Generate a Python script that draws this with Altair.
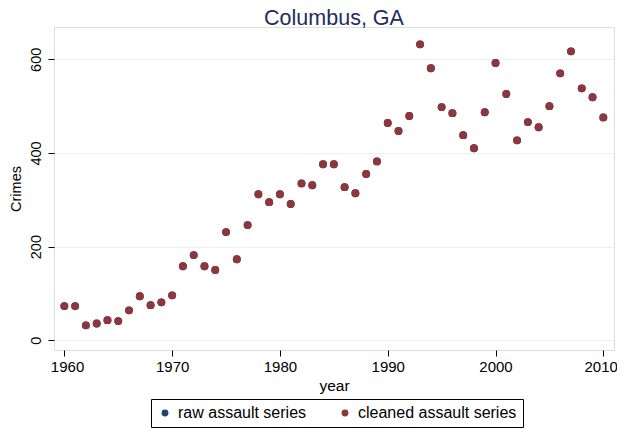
import altair as alt
import pandas as pd

years = list(range(1960, 2011))
cleaned = [73, 73, 32, 36, 43, 41, 64, 94, 75, 81,
           96, 158, 182, 158, 150, 231, 173, 246, 312, 295,
           312, 291, 335, 331, 376, 376, 327, 314, 355, 382,
           464, 447, 479, 632, 581, 498, 485, 438, 410, 487,
           592, 526, 427, 466, 455, 500, 570, 617, 538, 519,
           476]
raw = list(cleaned)
series_names = ["raw assault series", "cleaned assault series"]
series_colors = ["#1a476f", "#90353b"]

rows = []
for name, vals in zip(series_names, [raw, cleaned]):
    for y, v in zip(years, vals):
        rows.append({"year": y, "Crimes": v, "series": name})
df = pd.DataFrame(rows)

FONT = "Liberation Sans"

chart = alt.Chart(df).mark_circle(size=62, opacity=1).encode(
    x=alt.X("year:Q",
            scale=alt.Scale(domain=[1959.04, 2010.99], nice=False, zero=False),
            axis=alt.Axis(values=[1960, 1970, 1980, 1990, 2000, 2010], format="d",
                          grid=False, domain=False, tickColor="#000000", tickSize=6,
                          labelFontSize=15, labelColor="#000000", labelPadding=3,
                          labelFlush=15, labelFlushOffset=14,
                          titleFontSize=15.5, titleColor="#000000", titleFontWeight="normal",
                          titlePadding=4, title="year", labelFont=FONT, titleFont=FONT)),
    y=alt.Y("Crimes:Q",
            scale=alt.Scale(domain=[-20.7, 669], nice=False, zero=False),
            axis=alt.Axis(values=[0, 200, 400, 600], grid=True, gridColor="#eaf0f2",
                          gridWidth=1.2, domain=False, tickColor="#000000", tickSize=6,
                          labelAngle=-90, labelAlign="center", labelBaseline="bottom",
                          labelFontSize=14.5, labelColor="#000000", labelPadding=5,
                          titleFontSize=14.5, titleColor="#000000", titleFontWeight="normal",
                          titlePadding=5, title="Crimes", labelFont=FONT, titleFont=FONT)),
    color=alt.Color("series:N",
                    scale=alt.Scale(domain=series_names, range=series_colors),
                    legend=alt.Legend(title=None, orient="none", legendX=97, legendY=372,
                                      direction="horizontal", columns=2,
                                      strokeColor="#000000",
                                      padding=6, columnPadding=30, symbolType="circle",
                                      symbolSize=48, labelFontSize=16, labelFont=FONT,
                                      labelColor="#000000", symbolOffset=0, labelOffset=5,
                                      fillColor="#ffffff")),
    order=alt.Order("order:Q"),
).transform_calculate(
    order="datum.series == 'raw assault series' ? 0 : 1"
).properties(
    width=560, height=323,
    title=alt.TitleParams("Columbus, GA", fontSize=21.5, font=FONT, color="#1f2d5c",
                          fontWeight="normal", anchor="middle", offset=-2),
    autosize=alt.AutoSizeParams(type="none"),
    padding={"left": 46, "top": 19, "right": 3, "bottom": 78},
).configure_view(stroke=None).configure(background="#ffffff")

chart.save("out.html", embed_options={"renderer": "svg", "actions": False})
